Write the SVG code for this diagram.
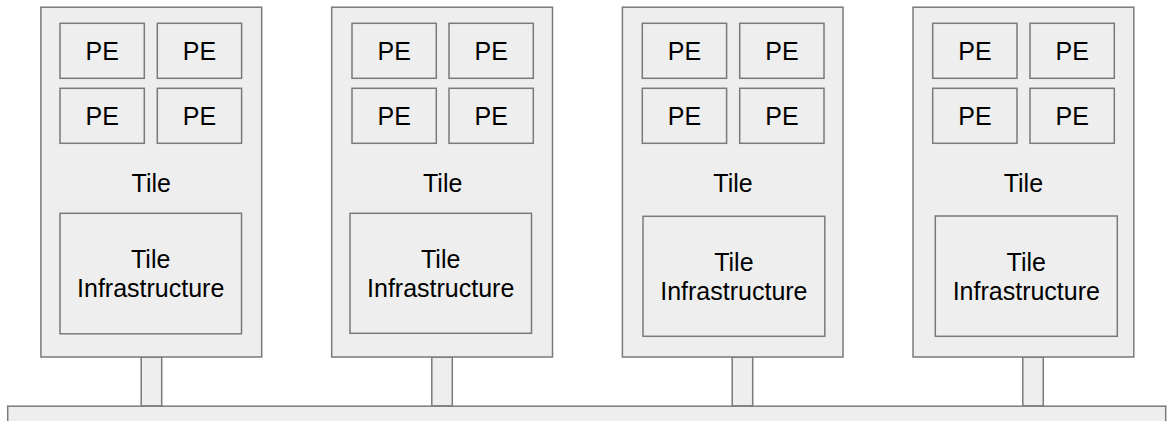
<svg xmlns="http://www.w3.org/2000/svg" width="1167" height="421" viewBox="0 0 1167 421">
  <style>
    .box { fill: #eeeeee; stroke: #7a7a7a; stroke-width: 1.5; }
    .lbl { font-family: "Liberation Sans", Arial, sans-serif; font-size: 25px; fill: #000000; text-anchor: middle; }
  </style>
  <rect width="1167" height="421" fill="#ffffff"/>

  <!-- links from each tile down to the shared bus -->
  <g id="connectors">
    <rect class="box" x="141.2" y="357" width="20.5" height="49"/>
    <rect class="box" x="431.8" y="357" width="20.5" height="49"/>
    <rect class="box" x="732.2" y="357" width="20.5" height="49"/>
    <rect class="box" x="1022.8" y="357" width="20.5" height="49"/>
  </g>

  <!-- shared bus -->
  <g id="bus">
    <rect class="box" x="7.7" y="406.2" width="1158" height="30"/>
  </g>

  <!-- tile 1 -->
  <g id="tile1">
    <rect class="box" x="40.9" y="7.2" width="220.8" height="349.8"/>
    <rect class="box" x="60" y="23.3" width="84.3" height="55"/>
    <rect class="box" x="157.3" y="23.3" width="84.3" height="55"/>
    <rect class="box" x="60" y="88.3" width="84.3" height="55"/>
    <rect class="box" x="157.3" y="88.3" width="84.3" height="55"/>
    <text class="lbl" x="102.2" y="59.8">PE</text>
    <text class="lbl" x="199.5" y="59.8">PE</text>
    <text class="lbl" x="102.2" y="124.8">PE</text>
    <text class="lbl" x="199.5" y="124.8">PE</text>
    <text class="lbl" x="151.3" y="191.8">Tile</text>
    <rect class="box" x="60" y="213.3" width="181.5" height="120.5"/>
    <text class="lbl" x="150.7" y="268">Tile</text>
    <text class="lbl" x="150.7" y="297.3">Infrastructure</text>
  </g>

  <!-- tile 2 -->
  <g id="tile2">
    <rect class="box" x="331.7" y="7.2" width="220.8" height="349.8"/>
    <rect class="box" x="352" y="23.3" width="84.3" height="55"/>
    <rect class="box" x="449" y="23.3" width="84.3" height="55"/>
    <rect class="box" x="352" y="88.3" width="84.3" height="55"/>
    <rect class="box" x="449" y="88.3" width="84.3" height="55"/>
    <text class="lbl" x="394.2" y="59.8">PE</text>
    <text class="lbl" x="491.2" y="59.8">PE</text>
    <text class="lbl" x="394.2" y="124.8">PE</text>
    <text class="lbl" x="491.2" y="124.8">PE</text>
    <text class="lbl" x="442.7" y="191.8">Tile</text>
    <rect class="box" x="350" y="213.3" width="181.5" height="120"/>
    <text class="lbl" x="440.7" y="268.3">Tile</text>
    <text class="lbl" x="440.7" y="296.7">Infrastructure</text>
  </g>

  <!-- tile 3 -->
  <g id="tile3">
    <rect class="box" x="622.4" y="7.2" width="220.6" height="349.8"/>
    <rect class="box" x="642.3" y="23.3" width="84.3" height="55"/>
    <rect class="box" x="739.7" y="23.3" width="84.3" height="55"/>
    <rect class="box" x="642.3" y="88.3" width="84.3" height="55"/>
    <rect class="box" x="739.7" y="88.3" width="84.3" height="55"/>
    <text class="lbl" x="684.5" y="59.8">PE</text>
    <text class="lbl" x="781.9" y="59.8">PE</text>
    <text class="lbl" x="684.5" y="124.8">PE</text>
    <text class="lbl" x="781.9" y="124.8">PE</text>
    <text class="lbl" x="733" y="191.8">Tile</text>
    <rect class="box" x="643" y="216.3" width="181.8" height="120"/>
    <text class="lbl" x="733.9" y="270.5">Tile</text>
    <text class="lbl" x="733.9" y="299.5">Infrastructure</text>
  </g>

  <!-- tile 4 -->
  <g id="tile4">
    <rect class="box" x="913" y="7.2" width="220.8" height="349.8"/>
    <rect class="box" x="932.7" y="23.3" width="84.3" height="55"/>
    <rect class="box" x="1030" y="23.3" width="84.3" height="55"/>
    <rect class="box" x="932.7" y="88.3" width="84.3" height="55"/>
    <rect class="box" x="1030" y="88.3" width="84.3" height="55"/>
    <text class="lbl" x="974.9" y="59.8">PE</text>
    <text class="lbl" x="1072.2" y="59.8">PE</text>
    <text class="lbl" x="974.9" y="124.8">PE</text>
    <text class="lbl" x="1072.2" y="124.8">PE</text>
    <text class="lbl" x="1023.4" y="191.8">Tile</text>
    <rect class="box" x="935.3" y="216" width="182" height="120.3"/>
    <text class="lbl" x="1026.3" y="270.5">Tile</text>
    <text class="lbl" x="1026.3" y="299.5">Infrastructure</text>
  </g>
</svg>
